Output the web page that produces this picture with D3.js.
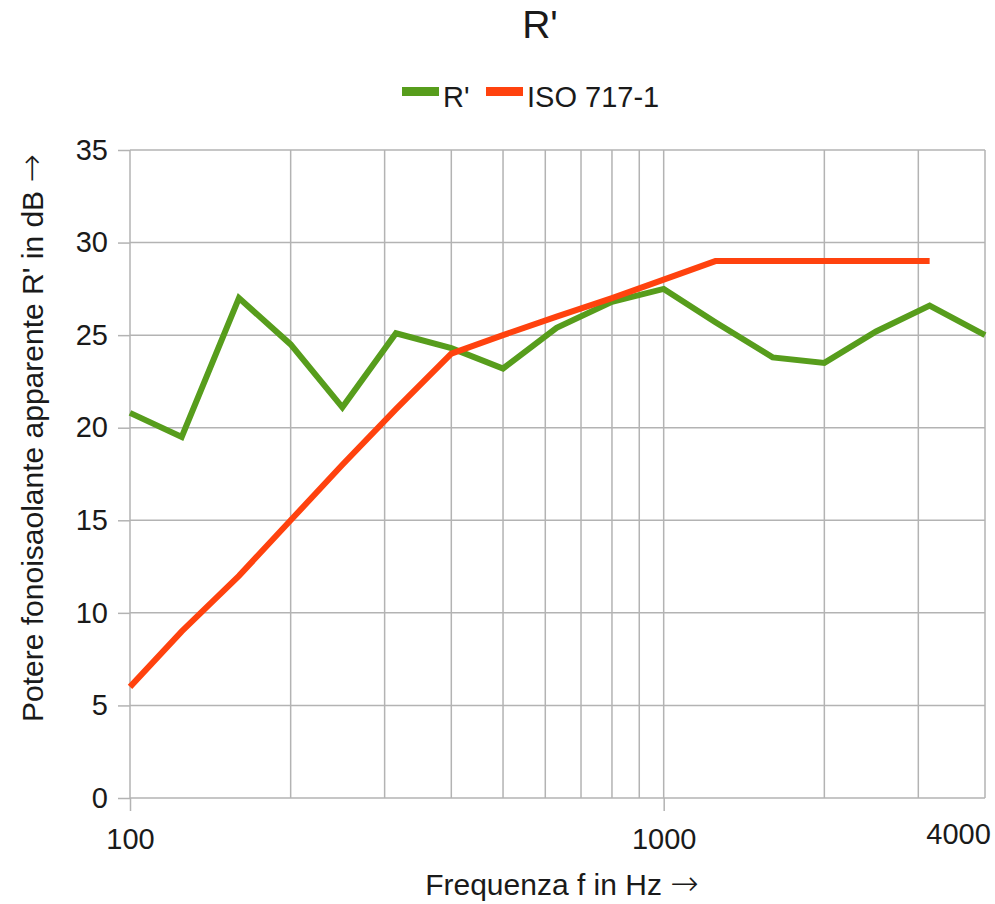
<!DOCTYPE html>
<html>
    <head>
        <meta charset="utf-8">
        <style>
            body { margin: 0; background: #fff; }
            svg { display: block; font-family: "Liberation Sans", Arial, sans-serif; }
        </style>
    </head>
    <body>
        <svg id="chart" width="995" height="904"></svg>

        <script src="https://d3js.org/d3.v7.min.js"></script>
        <script>
            // third-octave band centre frequencies (Hz)
            const freqs = [100, 125, 160, 200, 250, 315, 400, 500, 630, 800, 1000, 1250, 1600, 2000, 2500, 3150, 4000];
            // measured R' in dB
            const rPrime = [20.8, 19.5, 27.0, 24.5, 21.1, 25.1, 24.3, 23.2, 25.4, 26.8, 27.5, 25.7, 23.8, 23.5, 25.2, 26.6, 25.0];
            // shifted ISO 717-1 reference curve (stops at 3150 Hz)
            const iso717 = [6, 9, 12, 15, 18, 21, 24, 25, 26, 27, 28, 29, 29, 29, 29, 29];

            const xGrid = [100, 200, 300, 400, 500, 600, 700, 800, 900, 1000, 2000, 3000, 4000];
            const xLabels = [100, 1000, 4000];
            const yTicks = [0, 5, 10, 15, 20, 25, 30, 35];
            const seriesNames = ["R'", "ISO 717-1"];
            const colors = ["#579d1c", "#ff420e"];

            const plotL = 130, plotR = 985, plotT = 150, plotB = 798;

            const svg = d3.select("#chart");

            const x = d3.scaleLog().domain([100, 4000]).range([plotL, plotR]);
            const y = d3.scaleLinear().domain([0, 35]).range([plotB, plotT]);

            // grid
            const grid = svg.append("g")
                .attr("stroke", "#b3b3b3")
                .attr("stroke-width", 1.5);
            grid.selectAll("line.v")
                .data(xGrid)
                .join("line")
                    .attr("class", "v")
                    .attr("x1", d => x(d)).attr("x2", d => x(d))
                    .attr("y1", plotT).attr("y2", plotB);
            grid.selectAll("line.h")
                .data(yTicks)
                .join("line")
                    .attr("class", "h")
                    .attr("x1", plotL).attr("x2", plotR)
                    .attr("y1", d => y(d)).attr("y2", d => y(d));

            // axes
            const xAxis = svg.append("g")
                .attr("transform", `translate(0,${plotB})`)
                .call(d3.axisBottom(x).tickValues(xLabels).tickFormat(d3.format("d")).tickSize(13).tickPadding(17));
            const yAxis = svg.append("g")
                .attr("transform", `translate(${plotL},0)`)
                .call(d3.axisLeft(y).tickValues(yTicks).tickSize(12).tickPadding(10));

            for (const ax of [xAxis, yAxis]) {
                ax.select(".domain").remove();
                ax.selectAll(".tick line").attr("stroke", "#b3b3b3").attr("stroke-width", 1.5);
                ax.selectAll(".tick text")
                    .attr("fill", "#1a1a1a")
                    .style("font-family", "'Liberation Sans', Arial, sans-serif")
                    .style("font-size", "29px");
            }
            // last label sits inside the plot edge, no tick mark
            const lastTick = xAxis.selectAll(".tick").filter(d => d === 4000);
            lastTick.select("line").remove();
            lastTick.select("text").attr("x", -27).attr("y", 25);

            // lines
            const line = d3.line()
                .x(d => x(d[0]))
                .y(d => y(d[1]));

            const series = [
                freqs.map((f, i) => [f, rPrime[i]]),
                iso717.map((v, i) => [freqs[i], v])
            ];

            svg.append("g")
                .attr("fill", "none")
                .attr("stroke-width", 6)
                .selectAll("path")
                    .data(series)
                .join("path")
                    .attr("stroke", (d, i) => colors[i])
                    .attr("d", line);

            // title
            svg.append("text")
                .attr("x", 540).attr("y", 38)
                .attr("text-anchor", "middle")
                .attr("fill", "#1a1a1a")
                .style("font-size", "39px")
                .text("R'");

            // legend
            const legend = svg.append("g").attr("transform", "translate(402,0)");
            const legendX = [0, 84];
            const item = legend.selectAll("g")
                .data(seriesNames)
                .join("g")
                    .attr("transform", (d, i) => `translate(${legendX[i]},0)`);
            item.append("rect")
                .attr("x", 0).attr("y", 87)
                .attr("width", 37).attr("height", 9)
                .attr("fill", (d, i) => colors[i]);
            item.append("text")
                .attr("x", 41).attr("y", 107)
                .attr("fill", "#1a1a1a")
                .style("font-size", "29px")
                .text(d => d);

            // axis titles (arrow from DejaVu, it is longer)
            function arrowTitle(sel, label) {
                sel.append("tspan").text(label + " ");
                sel.append("tspan")
                    .style("font-family", "'DejaVu Sans', sans-serif")
                    .style("font-size", "34px")
                    .style("font-weight", 200)
                    .text("\u2192");
            }

            svg.append("text")
                .attr("x", 562).attr("y", 895)
                .attr("text-anchor", "middle")
                .attr("fill", "#1a1a1a")
                .style("font-size", "30px")
                .call(arrowTitle, "Frequenza f in Hz");

            svg.append("text")
                .attr("transform", "translate(43,438) rotate(-90)")
                .attr("text-anchor", "middle")
                .attr("fill", "#1a1a1a")
                .style("font-size", "30px")
                .call(arrowTitle, "Potere fonoisaolante apparente R' in dB");
        </script>
    </body>
</html>
